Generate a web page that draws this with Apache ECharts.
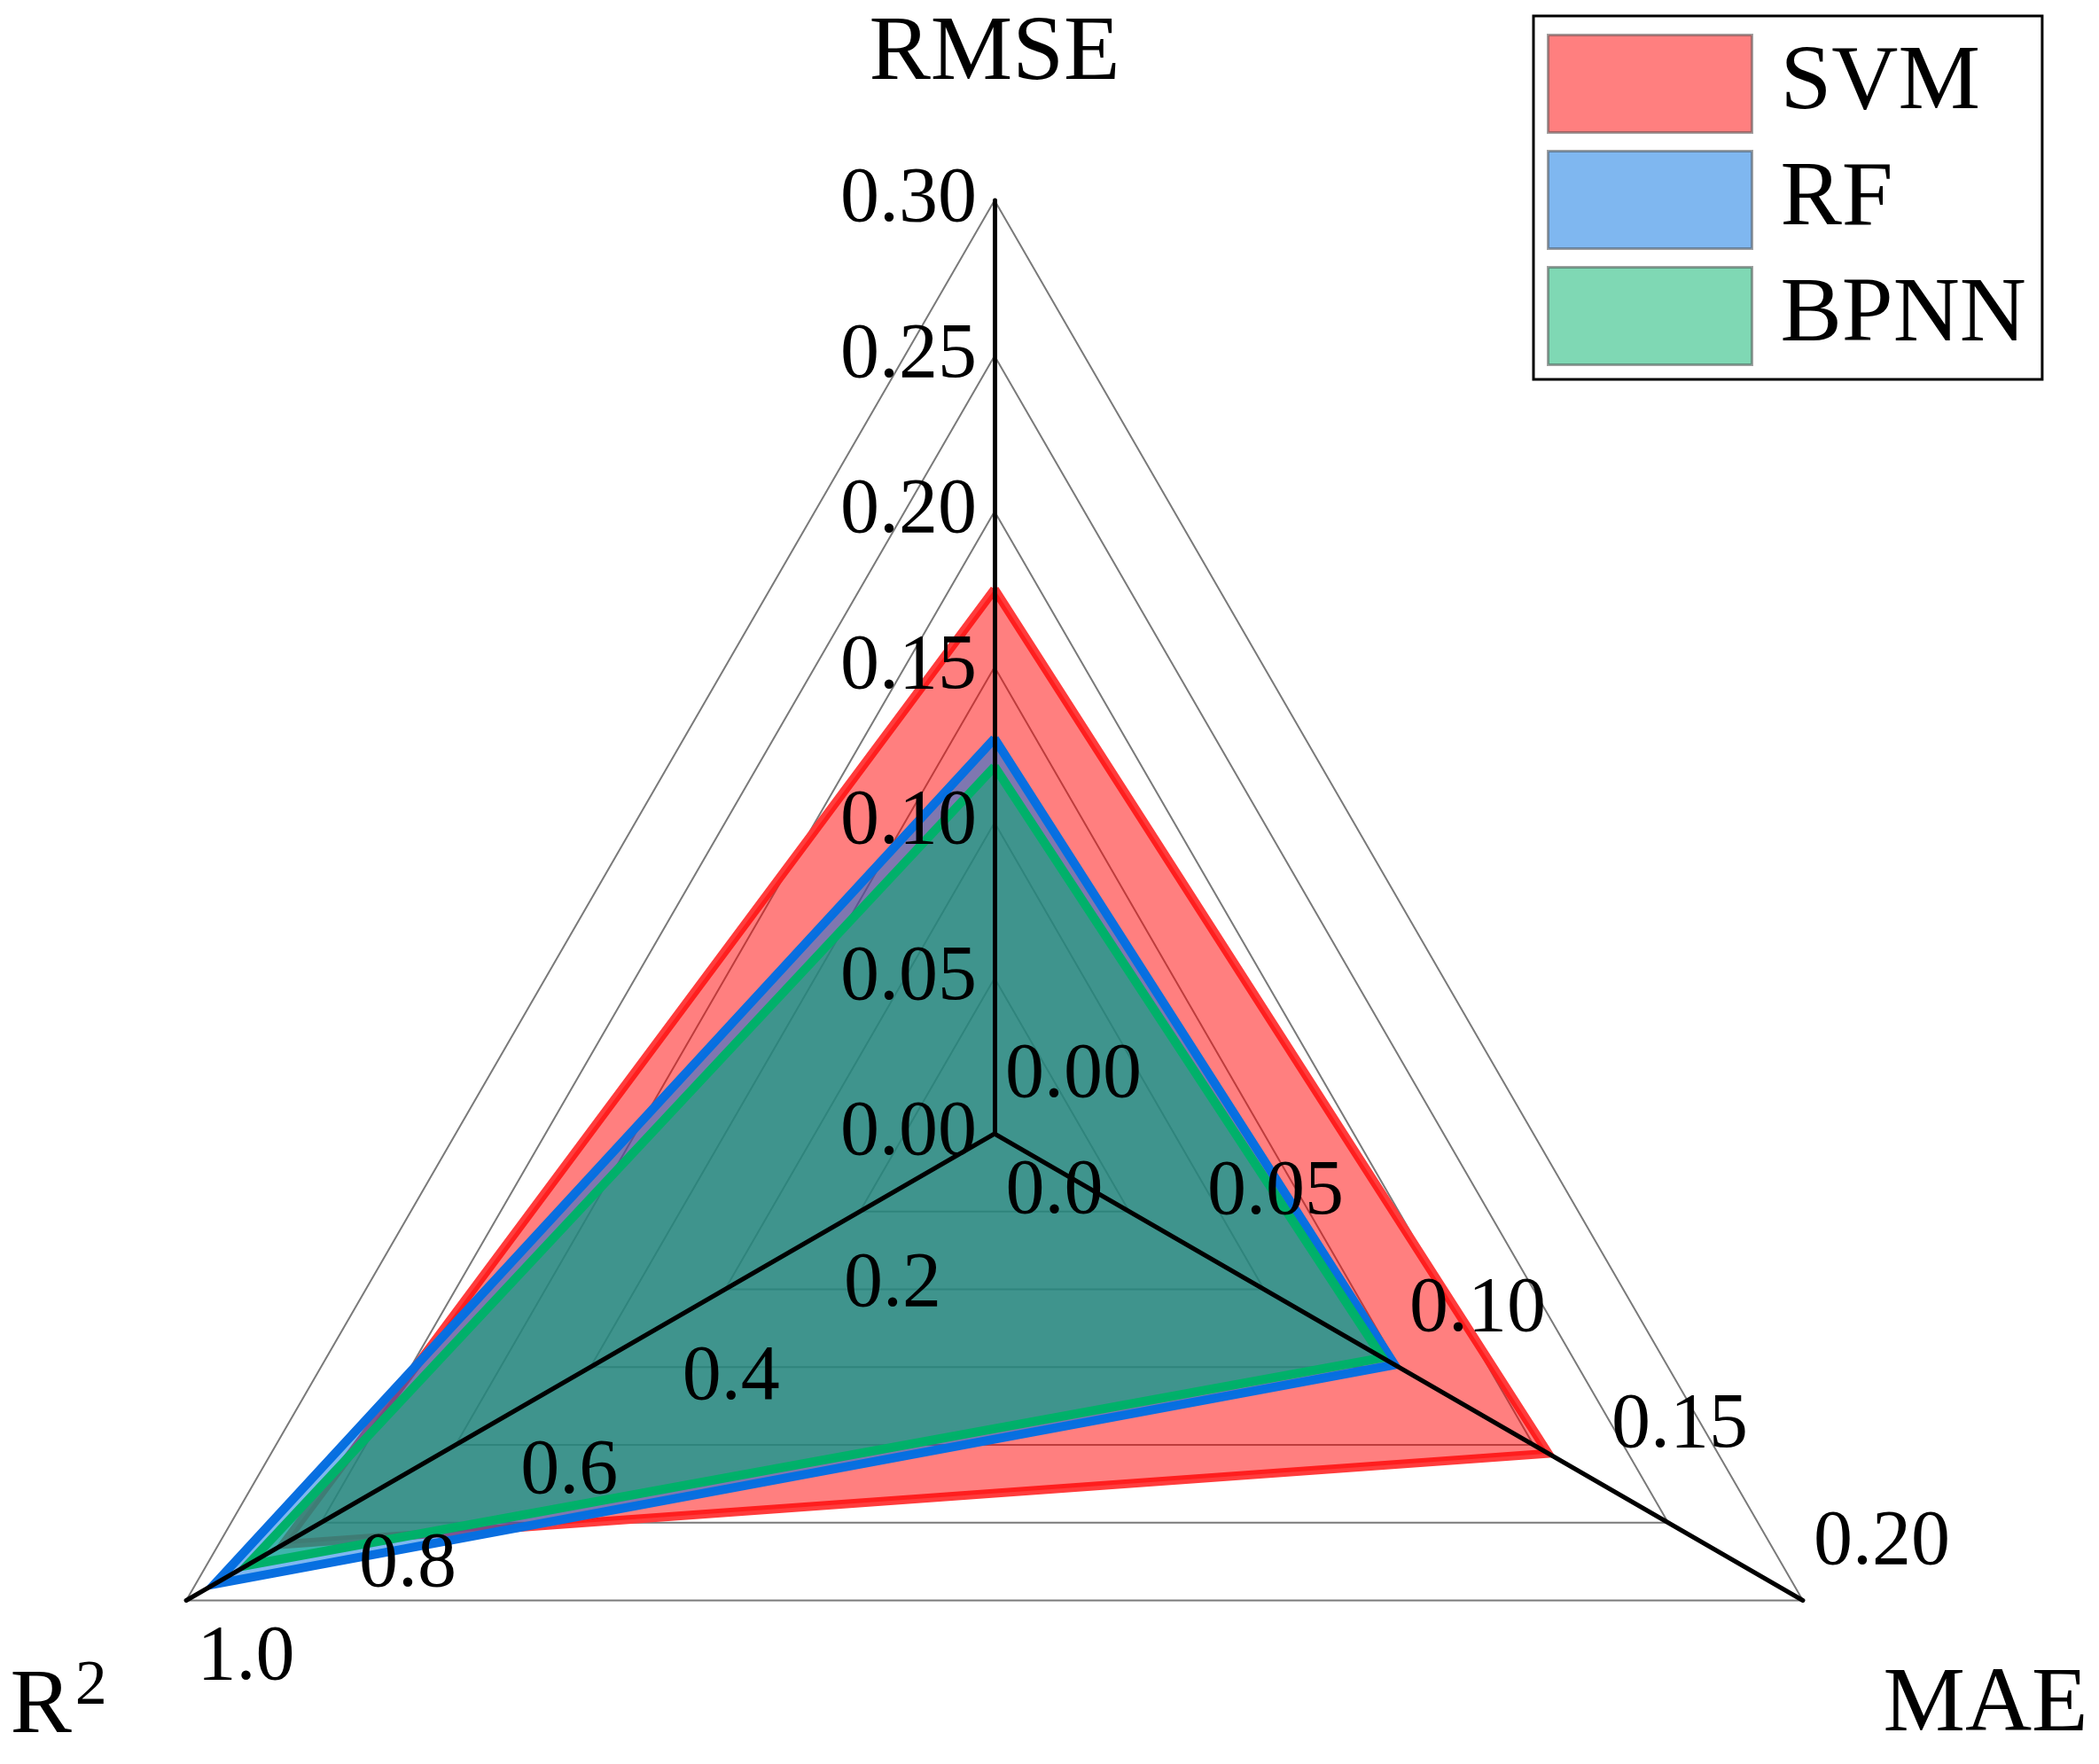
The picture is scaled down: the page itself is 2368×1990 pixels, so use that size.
<!DOCTYPE html>
<html>
<head>
<meta charset="utf-8">
<script src="https://cdn.jsdelivr.net/npm/echarts@6/dist/echarts.min.js"></script>
<style>
  html, body { margin: 0; padding: 0; background: #fff; }
  #chart { width: 2368px; height: 1990px; }
</style>
</head>
<body>
<div id="chart"></div>
<script>
// indicators, counter-clockwise from the top
const indicatorNames = ['RMSE', '{r|R}{s|2}', 'MAE']
const indicatorMax = [0.30, 1.0, 0.20]

// tick labels of each axis
const rmseTicks = [0, 0.05, 0.10, 0.15, 0.20, 0.25, 0.30]
const r2Ticks = [0, 0.2, 0.4, 0.6, 0.8, 1.0]
const maeTicks = [0, 0.05, 0.10, 0.15, 0.20]

// values: RMSE, R2, MAE
const seriesNames = ['SVM', 'RF', 'BPNN']
const svmValues = [0.175, 0.88, 0.137]
const rfValues = [0.127, 0.965, 0.099]
const bpnnValues = [0.118, 0.925, 0.096]
const seriesValues = [svmValues, rfValues, bpnnValues]

const lineColors = ['#ff3c3c', '#0a6fe0', '#00b06a']
const fillColors = ['#ff0000', '#006fe1', '#00b169']

const font = 'Liberation Serif'
const center = [1122, 1279]
const radius = 1053

let chart = echarts.init(document.getElementById('chart'), null, {renderer: 'canvas'})

function fixed(digits) {
  return function (v) { return Number(v).toFixed(digits) }
}

// per axis label / name placement
let axisSetup = [
  {
    ticks: rmseTicks, digits: 2,
    label: {align: 'right', verticalAlign: 'middle', margin: 20},
    nameGap: 164,
    nameStyle: {align: 'center', verticalAlign: 'middle'}
  },
  {
    ticks: r2Ticks, digits: 1,
    label: {align: 'left', verticalAlign: 'top', margin: 25},
    nameGap: 180,
    nameStyle: {
      align: 'center', verticalAlign: 'middle', padding: [48, 0, 0, 24],
      rich: {
        r: {fontFamily: font, fontSize: 104, lineHeight: 104, color: '#000', padding: [15, 0, 0, 0]},
        s: {fontFamily: font, fontSize: 72, lineHeight: 72, color: '#000', verticalAlign: 'top', padding: [0, 0, 0, 4]}
      }
    }
  },
  {
    ticks: maeTicks, digits: 2,
    label: {align: 'left', verticalAlign: 'bottom', margin: 24},
    nameGap: 238,
    nameStyle: {align: 'center', verticalAlign: 'middle'}
  }
]

let gridIndicators = indicatorNames.map(function (n, i) {
  return {name: n, min: 0, max: indicatorMax[i]}
})

let axisIndicators = indicatorNames.map(function (n, i) {
  let s = axisSetup[i]
  return {
    name: n,
    min: 0,
    max: indicatorMax[i],
    nameGap: s.nameGap,
    nameTextStyle: s.nameStyle,
    axisLabel: Object.assign({customValues: s.ticks, formatter: fixed(s.digits)}, s.label)
  }
})

let option = {
  backgroundColor: '#fff',
  animation: false,
  legend: {
    orient: 'vertical',
    left: 1730,
    top: 18,
    padding: [20, 18, 15, 15],
    itemWidth: 230,
    itemHeight: 110,
    itemGap: 18,
    borderColor: '#000',
    borderWidth: 3,
    icon: 'rect',
    selectedMode: false,
    textStyle: {fontFamily: font, fontSize: 104, color: '#000', padding: [0, 0, 0, 27]},
    data: seriesNames.map(function (n, i) {
      return {
        name: n,
        itemStyle: {color: fillColors[i], opacity: 0.5, borderColor: '#444', borderWidth: 3}
      }
    })
  },
  radar: [
    {
      // grid polygons, under the fills
      center: center,
      radius: radius,
      shape: 'polygon',
      splitNumber: 6,
      z: 0,
      axisName: {show: false},
      axisLine: {show: false},
      axisTick: {show: false},
      axisLabel: {show: false},
      splitLine: {show: true, lineStyle: {color: '#7a7a7a', width: 2}},
      splitArea: {show: false},
      indicator: gridIndicators
    },
    {
      // axes, labels and names, over the fills
      center: center,
      radius: radius,
      shape: 'polygon',
      splitNumber: 6,
      z: 5,
      axisName: {show: true, color: '#000', fontFamily: font, fontSize: 104},
      axisLine: {show: true, lineStyle: {color: '#000', width: 5}},
      axisTick: {show: false},
      axisLabel: {show: true, color: '#000', fontFamily: font, fontSize: 88},
      splitLine: {show: false},
      splitArea: {show: false},
      indicator: axisIndicators
    }
  ],
  series: seriesNames.map(function (n, i) {
    return {
      type: 'radar',
      name: n,
      radarIndex: 0,
      symbol: 'none',
      itemStyle: {color: fillColors[i]},
      lineStyle: {color: lineColors[i], width: 10, join: 'miter', opacity: 1},
      areaStyle: {color: fillColors[i], opacity: 0.5},
      data: [{name: n, value: seriesValues[i]}]
    }
  })
}

chart.setOption(option)
</script>
</body>
</html>
